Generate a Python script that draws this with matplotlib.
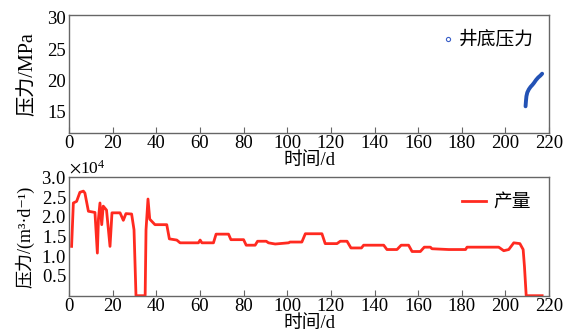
import matplotlib
matplotlib.use("Agg")
import matplotlib.pyplot as plt
from matplotlib.lines import Line2D
from matplotlib.ticker import ScalarFormatter

plt.rcParams['font.family'] = ['Liberation Serif', 'Noto Sans CJK SC', 'DejaVu Serif']
plt.rcParams['mathtext.fontset'] = 'stix'

# ---- data ----
pres_days = [209.2, 209.4, 209.6, 210.0, 210.7, 211.5, 212.3, 213.0, 214.0, 215.0, 216.0, 216.8]
pres_vals = [15.9, 16.8, 17.5, 18.1, 18.6, 19.0, 19.3, 19.6, 20.1, 20.5, 20.8, 21.1]

prod_days = [1.2, 2.0, 3.5, 5.0, 6.6, 7.3, 8.9, 11.9, 13.0, 13.5, 14.2, 15.0, 15.7, 17.2,
             18.8, 19.7, 23.4, 24.9, 26.1, 28.7, 29.8, 30.7, 34.9, 35.3, 36.2, 37.0, 39.4,
             44.8, 46.0, 49.4, 50.9, 59.3, 60.1, 60.9, 66.2, 67.4, 73.1, 74.2, 80.0, 81.2,
             85.3, 86.4, 90.4, 91.4, 94.5, 100.6, 101.3, 106.7, 108.3, 115.9, 117.4, 122.8,
             124.3, 127.4, 129.2, 134.0, 135.0, 144.2, 145.7, 150.3, 152.2, 155.6, 157.2,
             161.0, 162.8, 165.6, 166.3, 174.0, 181.7, 182.4, 196.9, 199.2, 201.5, 203.8,
             206.6, 208.1, 208.7, 209.5, 216.8]
prod_vals = [12500, 23500, 23900, 26200, 26500, 26000, 21400, 21100, 10800, 19500, 23500,
             18000, 22700, 21700, 12500, 21000, 21000, 19100, 20800, 20700, 16700, 0, 0,
             16700, 24500, 19400, 18000, 18000, 14400, 14100, 13400, 13400, 14100, 13400,
             13400, 15600, 15600, 14200, 14200, 12800, 12800, 13800, 13800, 13400, 13100,
             13400, 13600, 13600, 15700, 15700, 13200, 13200, 13800, 13800, 12100, 12100,
             12800, 12800, 11700, 11700, 12800, 12800, 11200, 11200, 12300, 12300, 11900,
             11700, 11700, 12300, 12300, 11400, 11700, 13400, 13200, 11700, 7400, 0, 0]

x_ticks = list(range(0, 221, 20))
pres_ticks = [15, 20, 25, 30]
prod_ticks = [5000, 10000, 15000, 20000, 25000, 30000]

fig = plt.figure(figsize=(5.72, 3.35), dpi=100)
ax1 = fig.add_axes([0.1206, 0.604, 0.8394, 0.352])
ax2 = fig.add_axes([0.1206, 0.1173, 0.8394, 0.3534])

spine_c = '#666666'
tick_fs = 13.5
for ax in (ax1, ax2):
    for s in ax.spines.values():
        s.set_color(spine_c)
        s.set_linewidth(1.0)
    ax.set_xlim(0, 220)
    ax.set_xticks(x_ticks)
    ax.tick_params(axis='x', direction='in', length=4, pad=2, labelsize=tick_fs, color=spine_c)
    ax.tick_params(axis='y', direction='in', length=0, pad=2, labelsize=tick_fs, color=spine_c)

# top: pressure
ax1.plot(pres_days, pres_vals, color='#2352b5', lw=2.8, solid_capstyle='round')
ax1.set_ylim(11.7, 30.5)
ax1.set_yticks(pres_ticks)
ax1.set_xlabel('时间/d', fontsize=13.5, labelpad=0)
ax1.set_ylabel('压力/MPa', fontsize=14.5, labelpad=7)
h1 = Line2D([], [], marker='o', ls='none', mfc='none', mec='#3a5fc8', ms=3, mew=0.8)
ax1.legend([h1], ['井底压力'], loc='upper right', frameon=False, fontsize=13.5,
           handlelength=0.5, handletextpad=0.3, borderaxespad=0.3, bbox_to_anchor=(0.995, 0.97))

# bottom: production
ax2.plot(prod_days, prod_vals, color='#ff2a20', lw=2.0)
ax2.set_ylim(0, 30000)
ax2.set_yticks(prod_ticks)
fmt = ScalarFormatter(useMathText=True)
fmt.set_powerlimits((0, 0))
ax2.yaxis.set_major_formatter(fmt)
ax2.yaxis.get_offset_text().set_fontsize(12.5)
ax2.set_xlabel('时间/d', fontsize=13.5, labelpad=0)
ax2.set_ylabel('压力/(m³·d⁻¹)', fontsize=13, labelpad=5)
ax2.legend(loc='upper right', handles=[Line2D([], [], color='#ff2a20', lw=2.0)],
           labels=['产量'], frameon=False, fontsize=13.5, handlelength=1.3,
           handletextpad=0.4, borderaxespad=0.3, bbox_to_anchor=(0.99, 0.97))

fig.savefig('out.png', dpi=100)
